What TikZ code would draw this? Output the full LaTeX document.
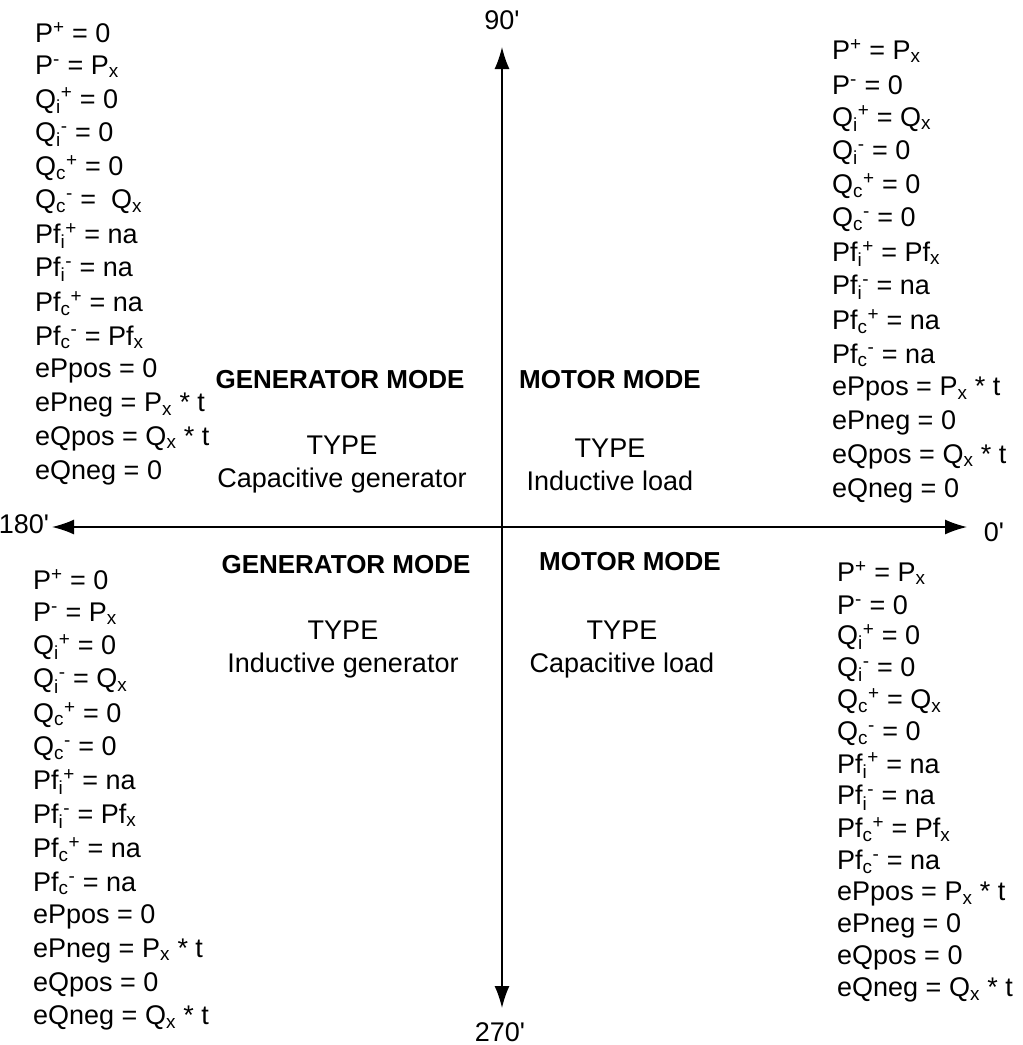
\documentclass[tikz,border=0pt]{standalone}
\usepackage{fontspec}
\setmainfont{Liberation Sans}
\usepackage{tikz}
\usetikzlibrary{positioning,arrows.meta}
\tikzset{
  axisarrow/.style={{Latex[length=22pt, width=15pt]}-{Latex[length=22pt, width=15pt]}, line width=1.5pt},
  eqline/.style={anchor=west, inner sep=0pt},
  modetitle/.style={inner sep=0pt, font=\fontsize{26}{30}\selectfont\bfseries},
  typebox/.style={inner sep=0pt, align=center, font=\fontsize{27}{33}\selectfont},
  anglelabel/.style={inner sep=0pt}
}

\begin{document}
\begin{tikzpicture}[x=1pt, y=-1pt, every node/.style={font=\fontsize{27}{32}\selectfont}]
  \useasboundingbox (0,0) rectangle (1023,1045);
  % axes
  \coordinate (up) at (502,47);
  \coordinate (down) at (502,1008);
  \coordinate (left) at (52,527);
  \coordinate (right) at (967,527);
  \draw[axisarrow] (down) -- (up);
  \draw[axisarrow] (left) -- (right);
  \node[anglelabel] (a90) at (502,20) {90\textquotesingle};
  \node[anglelabel] (a270) at (500,1032) {270\textquotesingle};
  \node[anglelabel] (a180) at (24,524) {180\textquotesingle};
  \node[anglelabel] (a0) at (994,532) {0\textquotesingle};

  % mode titles and types
  \node[modetitle] (genup) at (340,380) {GENERATOR MODE};
  \node[modetitle] (motup) at (610,380) {MOTOR MODE};
  \node[typebox] (typeul) at (342,465) {TYPE\\Capacitive generator};
  \node[typebox] (typeur) at (610,465) {TYPE\\Inductive load};
  \node[modetitle] (gendn) at (346,565) {GENERATOR MODE};
  \node[modetitle] (motdn) at (630,562) {MOTOR MODE};
  \node[typebox] (typell) at (343,650) {TYPE\\Inductive generator};
  \node[typebox] (typelr) at (622,650) {TYPE\\Capacitive load};

  % upper left quadrant
  \foreach \txt [count=\k from 0] in {
    P\textsuperscript{+} = 0, P\textsuperscript{-} = P\textsubscript{x},
    Q\textsubscript{i}\textsuperscript{+} = 0, Q\textsubscript{i}\textsuperscript{-} = 0,
    Q\textsubscript{c}\textsuperscript{+} = 0, Q\textsubscript{c}\textsuperscript{-} =\ \ Q\textsubscript{x},
    Pf\textsubscript{i}\textsuperscript{+} = na, Pf\textsubscript{i}\textsuperscript{-} = na,
    Pf\textsubscript{c}\textsuperscript{+} = na, Pf\textsubscript{c}\textsuperscript{-} = Pf\textsubscript{x},
    ePpos = 0, ePneg = P\textsubscript{x} * t, eQpos = Q\textsubscript{x} * t, eQneg = 0}
    \node[eqline] (ul\k) at (35,{33+33.8*\k}) {\txt};

  % upper right quadrant
  \foreach \txt [count=\k from 0] in {
    P\textsuperscript{+} = P\textsubscript{x}, P\textsuperscript{-} = 0,
    Q\textsubscript{i}\textsuperscript{+} = Q\textsubscript{x}, Q\textsubscript{i}\textsuperscript{-} = 0,
    Q\textsubscript{c}\textsuperscript{+} = 0, Q\textsubscript{c}\textsuperscript{-} = 0,
    Pf\textsubscript{i}\textsuperscript{+} = Pf\textsubscript{x}, Pf\textsubscript{i}\textsuperscript{-} = na,
    Pf\textsubscript{c}\textsuperscript{+} = na, Pf\textsubscript{c}\textsuperscript{-} = na,
    ePpos = P\textsubscript{x} * t, ePneg = 0, eQpos = Q\textsubscript{x} * t, eQneg = 0}
    \node[eqline] (ur\k) at (832,{51+33.8*\k}) {\txt};

  % lower left quadrant
  \foreach \txt [count=\k from 0] in {
    P\textsuperscript{+} = 0, P\textsuperscript{-} = P\textsubscript{x},
    Q\textsubscript{i}\textsuperscript{+} = 0, Q\textsubscript{i}\textsuperscript{-} = Q\textsubscript{x},
    Q\textsubscript{c}\textsuperscript{+} = 0, Q\textsubscript{c}\textsuperscript{-} = 0,
    Pf\textsubscript{i}\textsuperscript{+} = na, Pf\textsubscript{i}\textsuperscript{-} = Pf\textsubscript{x},
    Pf\textsubscript{c}\textsuperscript{+} = na, Pf\textsubscript{c}\textsuperscript{-} = na,
    ePpos = 0, ePneg = P\textsubscript{x} * t, eQpos = 0, eQneg = Q\textsubscript{x} * t}
    \node[eqline] (ll\k) at (33,{580+33.7*\k}) {\txt};

  % lower right quadrant
  \foreach \txt [count=\k from 0] in {
    P\textsuperscript{+} = P\textsubscript{x}, P\textsuperscript{-} = 0,
    Q\textsubscript{i}\textsuperscript{+} = 0, Q\textsubscript{i}\textsuperscript{-} = 0,
    Q\textsubscript{c}\textsuperscript{+} = Q\textsubscript{x}, Q\textsubscript{c}\textsuperscript{-} = 0,
    Pf\textsubscript{i}\textsuperscript{+} = na, Pf\textsubscript{i}\textsuperscript{-} = na,
    Pf\textsubscript{c}\textsuperscript{+} = Pf\textsubscript{x}, Pf\textsubscript{c}\textsuperscript{-} = na,
    ePpos = P\textsubscript{x} * t, ePneg = 0, eQpos = 0, eQneg = Q\textsubscript{x} * t}
    \node[eqline] (lr\k) at (837,{573+32.1*\k}) {\txt};
\end{tikzpicture}
\end{document}
